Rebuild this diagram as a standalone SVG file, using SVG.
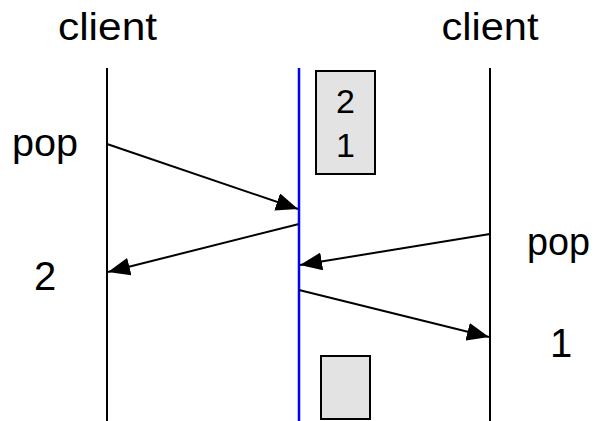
<svg xmlns="http://www.w3.org/2000/svg" width="598" height="421" viewBox="0 0 598 421">
  <style>
    .lbl { font-family: "Liberation Sans", Arial, sans-serif; fill: #000; }
    .life { stroke: #000; stroke-width: 2; fill: none; }
    .queue { stroke: #0000ff; stroke-width: 2.5; fill: none; }
    .msg { stroke: #000; stroke-width: 2; fill: none; marker-end: url(#arrow); }
    .box { fill: #e3e3e3; stroke: #000; stroke-width: 2; }
  </style>
  <defs>
    <marker id="arrow" markerUnits="userSpaceOnUse" markerWidth="22" markerHeight="18" viewBox="0 0 22 18" refX="22" refY="9" orient="auto">
      <path d="M0,0 L22,9 L0,18 Z" fill="#000"/>
    </marker>
  </defs>
  <rect width="598" height="421" fill="#fff"/>

  <g id="client-left">
    <text class="lbl" x="107.5" y="40" font-size="38" text-anchor="middle" textLength="99" lengthAdjust="spacingAndGlyphs">client</text>
    <line class="life" x1="107" y1="68" x2="107" y2="421"/>
  </g>
  <g id="queue">
    <line class="queue" x1="299" y1="68" x2="299" y2="421"/>
  </g>
  <g id="client-right">
    <text class="lbl" x="490" y="40" font-size="38" text-anchor="middle" textLength="97" lengthAdjust="spacingAndGlyphs">client</text>
    <line class="life" x1="490" y1="68" x2="490" y2="421"/>
  </g>

  <g id="stack-before">
    <rect class="box" x="316" y="71" width="59" height="103"/>
    <text class="lbl" x="345.5" y="113" font-size="34" text-anchor="middle">2</text>
    <text class="lbl" x="345.5" y="157" font-size="34" text-anchor="middle">1</text>
  </g>
  <g id="stack-after">
    <rect class="box" x="321" y="356" width="49" height="63"/>
  </g>

  <g id="labels">
    <text class="lbl" x="12" y="156" font-size="39" textLength="66" lengthAdjust="spacingAndGlyphs">pop</text>
    <text class="lbl" x="527" y="255" font-size="39" textLength="63" lengthAdjust="spacingAndGlyphs">pop</text>
    <text class="lbl" x="34" y="290" font-size="40">2</text>
    <text class="lbl" x="550" y="357" font-size="40">1</text>
  </g>

  <g id="connectors">
    <line class="msg" x1="107" y1="144" x2="298" y2="209"/>
    <line class="msg" x1="299" y1="224" x2="108" y2="272"/>
    <line class="msg" x1="490" y1="234" x2="300" y2="265"/>
    <line class="msg" x1="299" y1="290" x2="489" y2="337"/>
  </g>
</svg>
